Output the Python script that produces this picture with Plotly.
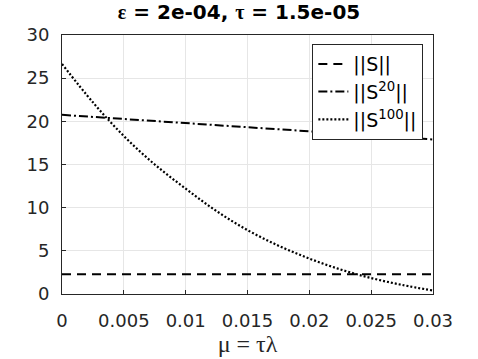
import plotly.graph_objects as go

# mu values (x axis)
mu = [0, 0.0025, 0.005, 0.0075, 0.01, 0.0125, 0.015, 0.0175, 0.02, 0.0225, 0.025, 0.0275, 0.03]

# norms
norm_s = [2.3] * len(mu)
norm_s20 = [20.75, 20.5, 20.27, 20.03, 19.8, 19.55, 19.3, 19.08, 18.85, 18.62, 18.4, 18.15, 17.9]
norm_s100 = [26.65, 22.2, 18.3, 15.0, 12.2, 9.6, 7.4, 5.6, 4.1, 2.85, 1.85, 1.05, 0.4]

x_ticks = [0, 0.005, 0.01, 0.015, 0.02, 0.025, 0.03]
x_ticklabels = ["0", "0.005", "0.01", "0.015", "0.02", "0.025", "0.03"]
y_ticks = [0, 5, 10, 15, 20, 25, 30]

SERIF = "Liberation Serif"
SANS = "DejaVu Sans"

fig = go.Figure()
fig.add_trace(go.Scatter(
    x=mu, y=norm_s, mode="lines", name="||S||",
    line=dict(color="black", width=2, dash="9px,6px"),
))
fig.add_trace(go.Scatter(
    x=mu, y=norm_s20, mode="lines", name="||S<sup>20</sup>||",
    line=dict(color="black", width=2, dash="9px,3px,2px,3px"),
))
fig.add_trace(go.Scatter(
    x=mu, y=norm_s100, mode="lines", name="||S<sup>100</sup>||",
    line=dict(color="black", width=2.2, dash="2px,2px", shape="spline"),
))

fig.update_layout(
    width=478, height=359,
    title=dict(
        text=f"<b><span style='font-family:{SERIF}'>ε</span> = 2e-04, "
             f"<span style='font-family:{SERIF}'>τ</span> = 1.5e-05</b>",
        x=0.5, xanchor="center", y=0.967, yanchor="middle",
        font=dict(family=SANS, size=20, color="black"),
    ),
    font=dict(family=SANS, size=18, color="#262626"),
    xaxis=dict(
        range=[0, 0.03], tickvals=x_ticks, ticktext=x_ticklabels,
        showline=True, mirror=True, linecolor="#262626", linewidth=1,
        ticks="inside", ticklen=4, tickcolor="#262626", ticklabelstandoff=10,
        showgrid=True, gridcolor="#e6e6e6", zeroline=False,
        title=dict(text="μ = τλ", font=dict(family=SERIF, size=24, color="#262626"),
                   standoff=4),
        automargin=False,
    ),
    yaxis=dict(
        range=[0, 30], tickvals=y_ticks,
        showline=True, mirror=True, linecolor="#262626", linewidth=1,
        ticks="inside", ticklen=4, tickcolor="#262626", ticklabelstandoff=8,
        showgrid=True, gridcolor="#e6e6e6", zeroline=False,
        automargin=False,
    ),
    legend=dict(
        x=0.974, y=0.965, xanchor="right", yanchor="top",
        bgcolor="white", bordercolor="#262626", borderwidth=1,
        font=dict(family=SANS, size=19, color="black"),
        tracegroupgap=0, itemwidth=30,
    ),
    plot_bgcolor="white", paper_bgcolor="white",
    margin=dict(l=62, r=45, t=35, b=65),
)

# drop the default body margin so the figure sits at the page corner
fig.write_html("out.html", config={"displayModeBar": False},
               post_script="document.body.style.margin='0';")
